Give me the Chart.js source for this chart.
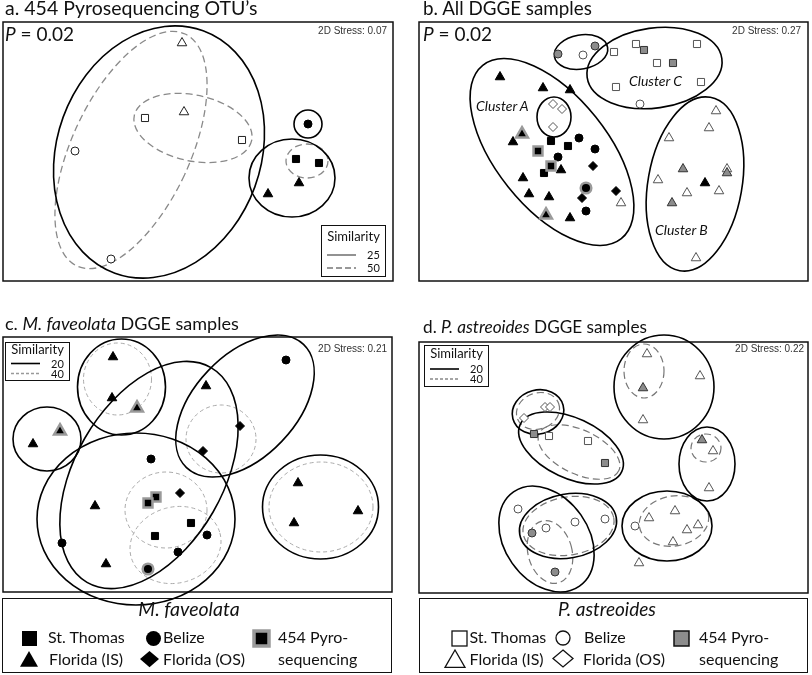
<!DOCTYPE html>
<html>
<head>
<meta charset="utf-8">
<script src="https://cdn.jsdelivr.net/npm/chart.js@4.4.1/dist/chart.umd.min.js"></script>
<style>
  body { margin: 0; background: #fff; width: 812px; height: 675px; overflow: hidden; position: relative; font-family: Lato, sans-serif; color: #111; }
  .t { position: absolute; white-space: nowrap; z-index: 3; }
  canvas { position: absolute; z-index: 2; }
  .box { position: absolute; border: 1.5px solid #111; box-sizing: border-box; }
  svg { position: absolute; overflow: visible; z-index: 3; }
</style>
</head>
<body>
<script>
// ---- panel a : 454 pyrosequencing OTU's (NMDS units, y grows downward)
var aMfStThomas  = [[293,137],[316,141]];
var aMfBelize    = [[305,102]];
var aMfFloridaIS = [[296,161],[265,172]];
var aPaStThomas  = [[142,96],[239,118]];
var aPaBelize    = [[72,129],[108,237]];
var aPaFloridaIS = [[179,21],[181,90]];
// clusters: cx, cy, rx, ry, rotation(deg)
var aSim25 = [[156,130,102,129,20],[305,102,14,14,0],[289,156,43,39,0]];
var aSim50 = [[128,128,59,128,25],[190,106,60,33,12],[304,139,21,17,0]];

// ---- panel b : all DGGE samples
var bPaStThomas  = [[195,30],[217,22],[278,22],[238,41],[197,65],[282,60]];
var bPaBelize    = [[164,33],[221,82]];
var bPaFloridaIS = [[202,181],[297,89],[290,106],[250,116],[308,147],[239,158],[268,171],[300,169],[277,236]];
var bPaFloridaOS = [[134,82],[143,87],[134,105]];
var bPaPyroSq    = [[225,28],[254,41]];
var bPaPyroCi    = [[139,32],[176,24]];
var bPaPyroTr    = [[264,147],[308,151],[253,181]];
var bMfStThomas  = [[132,119],[149,124],[125,151]];
var bMfBelize    = [[160,116],[176,127],[139,135],[167,189]];
var bMfFloridaIS = [[81,55],[124,66],[151,68],[94,120],[142,148],[104,156],[110,172],[130,175],[151,196],[286,161]];
var bMfFloridaOS = [[174,144],[197,169],[163,176]];
var bMfPyroTr    = [[103,112],[127,193]];
var bMfPyroSq    = [[119,129],[132,144]];
var bMfPyroCi    = [[167,166]];
var bClusters = [[162,30,27,17,-10],[235.5,46,68,40,-8],[133,130,56,111,-38.6],[135,95,17,20,0],[276,162,47,88,10]];

// ---- panel c : M. faveolata DGGE
var cFloridaIS = [[110,20],[109,61],[30,107],[203,49],[92,169],[103,227],[295,146],[355,174],[291,186]];
var cBelize    = [[283,23],[148,122],[204,198],[59,206],[175,215]];
var cFloridaOS = [[237,89],[200,114],[177,156]];
var cStThomas  = [[188,186],[152,199]];
var cPyroTr    = [[134,71],[57,94]];
var cPyroSq    = [[153,160],[145,166]];
var cPyroCi    = [[145,232]];
var cSim20 = [[44,102,34,32,0],[118.5,50,44,48,0],[146,138,74,124,30],[133,182,99,86,0],[242,69,51,85,43.5],[317.5,170,58,52,0]];
var cSim40 = [[114.5,42,34,36,0],[218,102,35,34,0],[163,173,41,38,0],[172.5,208,46,38,-15],[318,170,52,45,0]];

// ---- panel d : P. astreoides DGGE
var dFloridaIS = [[228,12],[281,34],[224,78],[294,109],[290,146],[230,176],[256,169],[279,183],[268,188],[254,200],[220,221]];
var dFloridaOS = [[126,65],[131,65],[105,76]];
var dStThomas  = [[130,94],[169,99]];
var dBelize    = [[99,167],[127,186],[156,180],[186,177],[216,184]];
var dPyroTr    = [[224,46],[283,98]];
var dPyroSq    = [[115,92],[186,121]];
var dPyroCi    = [[113,191],[136,230]];
var dSim20 = [[245,45,50,52,0],[119,70,26,22,-15],[152,106,56,30,25],[288,122,28,37,0],[127.5,197,42,57.5,-35],[149,184,49,32,-10],[248,184,45,35,0]];
var dSim40 = [[225,29,20,27,0],[119,69,22,18,-20],[160,110,44,22,25],[287,106,15,14,0],[149.5,184,46,29,-10],[131,210,22,32,-15],[255,179,35,25,-10]];

var SHAPE = { sq: 'rect', ci: 'circle', tr: 'triangle', di: 'rectRot' };
var RAD = { sq: 5, ci: 4, tr: 5.5, di: 4.5 };
var LOOK = {
  fill:  { bg: '#000', bd: '#000', bw: 1, extra: 0 },
  openA: { bg: '#fff', bd: '#222', bw: 1, extra: 0 },
  open:  { bg: '#fff', bd: '#555', bw: 1, extra: 0 },
  gray:  { bg: '#8c8c8c', bd: '#333', bw: 1, extra: 0 },
  pyro:  { bg: '#000', bd: '#9a9a9a', bw: 2.5, extra: 1.3 }
};

function ds(pts, shape, look) {
  var l = LOOK[look];
  return {
    data: pts.map(function (p) { return { x: p[0], y: p[1] }; }),
    pointStyle: SHAPE[shape],
    pointRadius: RAD[shape] + l.extra,
    backgroundColor: l.bg,
    borderColor: l.bd,
    borderWidth: l.bw,
    clip: false
  };
}

var ellipsePlugin = {
  id: 'ellipses',
  beforeDatasetsDraw: function (chart, args, opts) {
    var ctx = chart.ctx, a = chart.chartArea, x = chart.scales.x, y = chart.scales.y;
    ctx.save();
    ctx.lineWidth = 1.5;
    ctx.strokeStyle = '#111';
    ctx.strokeRect(a.left, a.top, a.right - a.left, a.bottom - a.top);
    function draw(list, st) {
      list.forEach(function (e) {
        var px = x.getPixelForValue(e[0]), py = y.getPixelForValue(e[1]);
        var rx = Math.abs(x.getPixelForValue(e[0] + e[2]) - px);
        var ry = Math.abs(y.getPixelForValue(e[1] + e[3]) - py);
        ctx.beginPath();
        ctx.ellipse(px, py, rx, ry, e[4] * Math.PI / 180, 0, 2 * Math.PI);
        ctx.strokeStyle = st.color;
        ctx.lineWidth = st.width;
        ctx.setLineDash(st.dash);
        ctx.stroke();
      });
    }
    draw(opts.dashed || [], opts.dashStyle);
    draw(opts.solid || [], { color: '#000', width: 1.6, dash: [] });
    ctx.restore();
  }
};

function panel(box, datasets, solid, dashed, dashStyle) {
  var M = 24;
  var cv = document.createElement('canvas');
  cv.width = box.w + 2 * M;
  cv.height = box.h + 2 * M;
  cv.style.left = (box.x - M) + 'px';
  cv.style.top = (box.y - M) + 'px';
  document.body.appendChild(cv);
  new Chart(cv, {
    type: 'scatter',
    data: { datasets: datasets },
    options: {
      responsive: false,
      animation: false,
      events: [],
      layout: { padding: M },
      scales: {
        x: { type: 'linear', min: 0, max: box.w, display: false },
        y: { type: 'linear', min: 0, max: box.h, reverse: true, display: false }
      },
      plugins: {
        legend: { display: false },
        tooltip: { enabled: false },
        ellipses: { solid: solid, dashed: dashed, dashStyle: dashStyle }
      }
    },
    plugins: [ellipsePlugin]
  });
}

function txt(html, x, base, size, o) {
  o = o || {};
  var fam = o.fam || 'Lato';
  var asc = fam === 'Lato' ? 0.887 : 0.8465;
  var d = document.createElement('div');
  d.className = 't';
  d.style.cssText = 'left:' + x + 'px;top:' + (base - asc * size) + 'px;font-size:' + size + 'px;line-height:' + size + 'px;font-family:' + fam + ';' +
    (o.align === 'right' ? 'transform:translateX(-100%);' : o.align === 'center' ? 'transform:translateX(-50%);' : '') + (o.css || '');
  d.innerHTML = html;
  document.body.appendChild(d);
}

function boxDiv(x, y, w, h) {
  var d = document.createElement('div');
  d.className = 'box';
  d.style.cssText = 'left:' + x + 'px;top:' + y + 'px;width:' + w + 'px;height:' + h + 'px;';
  document.body.appendChild(d);
}

var NS = 'http://www.w3.org/2000/svg';
function svgEl(x, y, w, h, inner) {
  var s = document.createElementNS(NS, 'svg');
  s.setAttribute('width', w); s.setAttribute('height', h);
  s.style.left = x + 'px'; s.style.top = y + 'px';
  s.innerHTML = inner;
  document.body.appendChild(s);
}

function sym(shape, cx, cy, s, fill, stroke, sw) {
  var h = s / 2, inner;
  if (shape === 'sq') inner = '<rect x="0" y="0" width="' + s + '" height="' + s + '"/>';
  else if (shape === 'ci') inner = '<circle cx="' + h + '" cy="' + h + '" r="' + h + '"/>';
  else if (shape === 'tr') inner = '<polygon points="' + h + ',0 ' + s + ',' + (s * 0.87) + ' 0,' + (s * 0.87) + '"/>';
  else inner = '<polygon points="' + h + ',0 ' + s + ',' + (h * 0.85) + ' ' + h + ',' + (s * 0.85) + ' 0,' + (h * 0.85) + '"/>';
  inner = inner.replace('/>', ' fill="' + fill + '" stroke="' + stroke + '" stroke-width="' + sw + '"/>');
  svgEl(cx - h, cy - h, s, s, inner);
}

// l = [title baseline, line1 y, line2 y] offsets from box top
function simLegend(x, y, w, h, l, a, b, dashCol, dashArr, solidCol) {
  boxDiv(x, y, w, h);
  txt('Similarity', x + w / 2, y + l[0], 13, { align: 'center' });
  svgEl(x + 6, y, 30, h,
    '<line x1="0" y1="' + l[1] + '" x2="29" y2="' + l[1] + '" stroke="' + solidCol + '" stroke-width="1.6"/>' +
    '<line x1="0" y1="' + l[2] + '" x2="29" y2="' + l[2] + '" stroke="' + dashCol + '" stroke-width="1.3" stroke-dasharray="' + dashArr + '"/>');
  txt(a, x + 46, y + l[1] + 4, 11);
  txt(b, x + 46, y + l[2] + 4, 11);
}

// ---------- panel a
panel({ x: 3, y: 22, w: 390, h: 259 }, [
  ds(aMfStThomas, 'sq', 'fill'), ds(aMfBelize, 'ci', 'fill'), ds(aMfFloridaIS, 'tr', 'fill'),
  ds(aPaStThomas, 'sq', 'openA'), ds(aPaBelize, 'ci', 'openA'), ds(aPaFloridaIS, 'tr', 'openA')
], aSim25, aSim50, { color: '#8a8a8a', width: 1.3, dash: [7, 4] });
txt('a. 454 Pyrosequencing OTU\u2019s', 5, 15.5, 19.5);
txt('<i>P</i> = 0.02', 5, 40.5, 19);
txt('2D Stress: 0.07', 387, 34, 10, { fam: 'Liberation Sans', align: 'right', css: 'color:#333;' });
simLegend(321, 225, 65, 52, [17, 30, 43], '25', '50', '#777', '6,3', '#777');

// ---------- panel b
panel({ x: 419, y: 22, w: 389, h: 259 }, [
  ds(bMfPyroTr, 'tr', 'pyro'), ds(bMfPyroSq, 'sq', 'pyro'), ds(bMfPyroCi, 'ci', 'pyro'),
  ds(bMfStThomas, 'sq', 'fill'), ds(bMfBelize, 'ci', 'fill'), ds(bMfFloridaIS, 'tr', 'fill'), ds(bMfFloridaOS, 'di', 'fill'),
  ds(bPaPyroSq, 'sq', 'gray'), ds(bPaPyroCi, 'ci', 'gray'), ds(bPaPyroTr, 'tr', 'gray'),
  ds(bPaStThomas, 'sq', 'open'), ds(bPaBelize, 'ci', 'open'), ds(bPaFloridaIS, 'tr', 'open'), ds(bPaFloridaOS, 'di', 'open')
], bClusters, [], { color: '#000', width: 1, dash: [] });
txt('b. All DGGE samples', 423, 15.5, 18.8);
txt('<i>P</i> = 0.02', 423, 40.5, 19);
txt('2D Stress: 0.27', 801, 34, 10, { fam: 'Liberation Sans', align: 'right', css: 'color:#333;' });
txt('<i>Cluster A</i>', 476, 111.5, 14);
txt('<i>Cluster C</i>', 629, 86, 14);
txt('<i>Cluster B</i>', 655, 235, 14);

// ---------- panel c
panel({ x: 3, y: 337, w: 389, h: 255 }, [
  ds(cPyroTr, 'tr', 'pyro'), ds(cPyroSq, 'sq', 'pyro'), ds(cPyroCi, 'ci', 'pyro'),
  ds(cStThomas, 'sq', 'fill'), ds(cBelize, 'ci', 'fill'), ds(cFloridaIS, 'tr', 'fill'), ds(cFloridaOS, 'di', 'fill')
], cSim20, cSim40, { color: '#aaa', width: 1, dash: [4, 3] });
txt('c. <i>M. faveolata</i> DGGE samples', 5, 330, 18);
txt('2D Stress: 0.21', 387, 352, 10, { fam: 'Liberation Sans', align: 'right', css: 'color:#333;' });
simLegend(5, 342, 65, 39, [13, 21.5, 31.5], '20', '40', '#999', '3,2', '#000');

// ---------- panel d
panel({ x: 419, y: 342, w: 389, h: 251 }, [
  ds(dPyroTr, 'tr', 'gray'), ds(dPyroSq, 'sq', 'gray'), ds(dPyroCi, 'ci', 'gray'),
  ds(dStThomas, 'sq', 'open'), ds(dBelize, 'ci', 'open'), ds(dFloridaIS, 'tr', 'open'), ds(dFloridaOS, 'di', 'open')
], dSim20, dSim40, { color: '#777', width: 1.2, dash: [7, 4] });
txt('d. <i>P. astreoides</i> DGGE samples', 423, 333, 17.2);
txt('2D Stress: 0.22', 804, 352, 10, { fam: 'Liberation Sans', align: 'right', css: 'color:#333;' });
simLegend(424, 345, 65, 42, [14, 24, 34], '20', '40', '#888', '3,2', '#000');

// ---------- species legends
boxDiv(2, 598, 390, 75);
txt('<i>M. faveolata</i>', 189, 616, 19.5, { align: 'center' });
sym('sq', 29, 638, 15, '#000', '#000', 0);
txt('St. Thomas', 48, 643.5, 16);
sym('ci', 153, 638, 15, '#000', '#000', 0);
txt('Belize', 163, 643.5, 16);
sym('sq', 261, 638, 15, '#000', '#9a9a9a', 3.5);
txt('454 Pyro-', 278, 643.5, 16);
sym('tr', 29, 660, 18, '#000', '#000', 0);
txt('Florida (IS)', 49, 665, 16);
sym('di', 149, 660, 19, '#000', '#000', 0);
txt('Florida (OS)', 163, 665, 16);
txt('sequencing', 278, 665, 16);

boxDiv(419, 598, 389, 75);
txt('<i>P. astreoides</i>', 607, 616, 19, { align: 'center' });
sym('sq', 459, 638, 15, '#fff', '#111', 1.3);
txt('St. Thomas', 469.5, 643.5, 16);
sym('ci', 563, 638, 14, '#fff', '#111', 1.3);
txt('Belize', 584, 643.5, 16);
sym('sq', 681.5, 638, 15, '#8c8c8c', '#111', 1.5);
txt('454 Pyro-', 699, 643.5, 16);
sym('tr', 454.5, 660, 20, '#fff', '#111', 1.3);
txt('Florida (IS)', 469.5, 665, 16);
sym('di', 563, 660, 20, '#fff', '#111', 1.3);
txt('Florida (OS)', 583, 665, 16);
txt('sequencing', 699, 665, 16);
</script>
</body>
</html>
